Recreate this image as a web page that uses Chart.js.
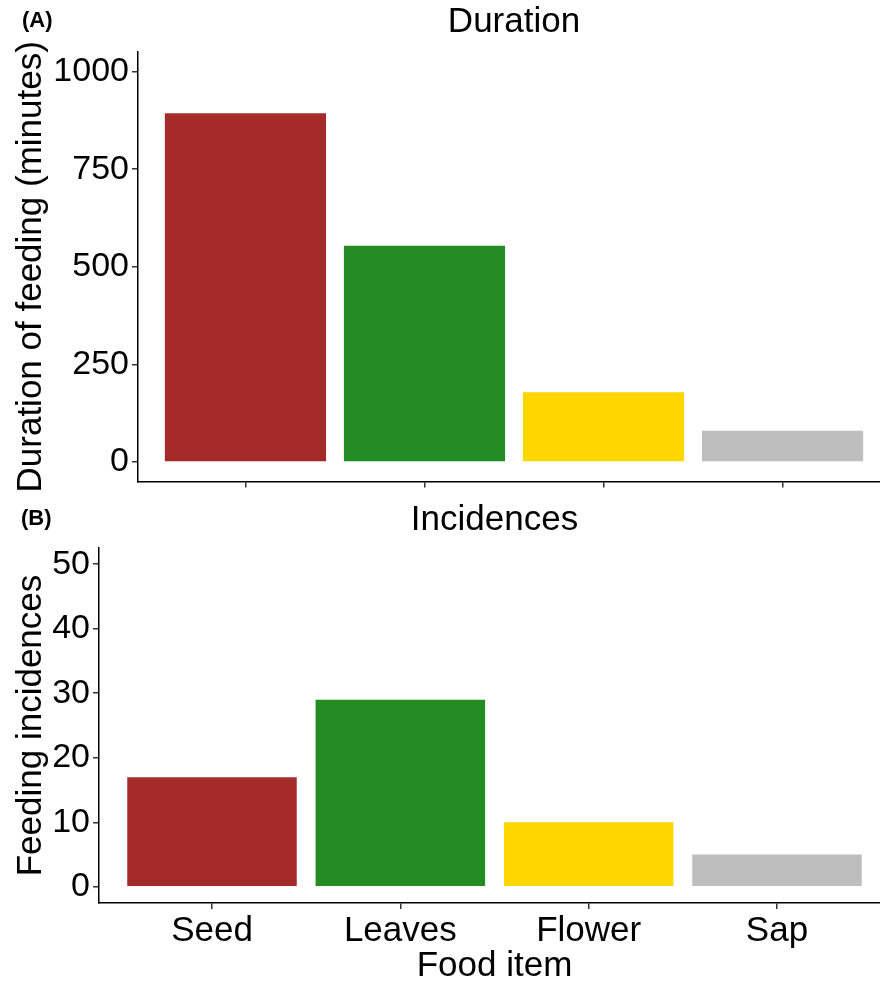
<!DOCTYPE html>
<html lang="en">
<head>
  <meta charset="UTF-8" />
  <title>Feeding duration and incidences</title>
  <script src="https://cdn.jsdelivr.net/npm/chart.js"></script>
  <style>
    body {
      margin: 0;
      background: #ffffff;
      overflow: hidden;
      width: 880px;
      height: 987px;
      position: relative;
      font-family: "Liberation Sans", Arial, sans-serif;
    }
    .panel {
      position: absolute;
      left: 0;
      width: 890px;
    }
    #panelA { top: 0; height: 505px; }
    #panelB { top: 495px; height: 492px; }
    .tag {
      position: absolute;
      font-weight: bold;
      font-size: 22px;
      line-height: 22px;
      color: #000;
      z-index: 2;
    }
  </style>
</head>
<body>
  <div class="panel" id="panelA"><canvas id="durationChart"></canvas></div>
  <div class="panel" id="panelB"><canvas id="incidenceChart"></canvas></div>
  <div class="tag" style="left:22px; top:9px;">(A)</div>
  <div class="tag" style="left:21px; top:507px;">(B)</div>

  <script>
    const foodItems = ['Seed', 'Leaves', 'Flower', 'Sap'];
    const barColors = ['#A52A2A', '#228B22', '#FFD700', '#BEBEBE'];
    const durationMinutes = [893, 554, 179, 80];
    const feedingIncidences = [17, 29, 10, 5];
    const durationTicks = [0, 250, 500, 750, 1000];
    const incidenceTicks = [0, 10, 20, 30, 40, 50];

    const fontFamily = '"Liberation Sans", Arial, sans-serif';
    Chart.defaults.font.family = fontFamily;
    Chart.defaults.color = '#000';

    // ggplot-style title: centred over the plot panel, not the whole canvas
    const panelTitle = {
      id: 'panelTitle',
      afterDraw(chart, args, o) {
        const { ctx, chartArea } = chart;
        ctx.save();
        ctx.font = '35px ' + fontFamily;
        ctx.fillStyle = '#000';
        ctx.textAlign = 'center';
        ctx.textBaseline = 'middle';
        ctx.fillText(o.text, (chartArea.left + chartArea.right) / 2, o.y);
        ctx.restore();
      }
    };

    function makeChart(canvasId, opts) {
      const ctx = document.getElementById(canvasId).getContext('2d');
      return new Chart(ctx, {
        type: 'bar',
        data: {
          datasets: [{
            data: opts.values.map((v, i) => ({ x: i + 1, y: v })),
            backgroundColor: barColors,
            borderWidth: 0,
            barPercentage: 0.9,
            categoryPercentage: 1.0
          }]
        },
        plugins: [panelTitle],
        options: {
          responsive: true,
          maintainAspectRatio: false,
          animation: false,
          layout: { padding: { top: opts.padTop, left: 0, right: 0, bottom: 0 } },
          plugins: {
            legend: { display: false },
            tooltip: { enabled: false },
            title: { display: false },
            panelTitle: { text: opts.title, y: opts.titleY }
          },
          scales: {
            x: {
              type: 'linear',
              min: 0.4,
              max: 4.6,
              offset: false,
              afterBuildTicks: s => { s.ticks = [1, 2, 3, 4].map(v => ({ value: v })); },
              afterFit: s => { s.height = opts.xHeight; },
              grid: { offset: false, drawOnChartArea: false, drawTicks: true, tickLength: 6, color: '#333', lineWidth: 1.5 },
              border: { display: true, color: '#000', width: 1.5 },
              ticks: {
                display: opts.showX,
                padding: 1,
                font: { size: 35 },
                color: '#000',
                maxRotation: 0,
                autoSkip: false,
                callback: v => foodItems[v - 1] || ''
              },
              title: {
                display: opts.showX,
                text: 'Food item',
                color: '#000',
                font: { size: 35 },
                padding: 0
              }
            },
            y: {
              min: opts.yMin,
              max: opts.yMax,
              afterBuildTicks: s => { s.ticks = opts.ticks.map(v => ({ value: v })); },
              afterFit: s => { s.width = opts.yWidth; },
              grid: { drawOnChartArea: false, drawTicks: true, tickLength: 6, color: '#333', lineWidth: 1.5 },
              border: { display: true, color: '#000', width: 1.5 },
              ticks: { padding: 3, font: { size: 34 }, color: '#000', callback: v => String(v) },
              title: {
                display: true,
                text: opts.yTitle,
                color: '#000',
                font: { size: 35 },
                padding: { top: 10, bottom: 0 }
              }
            }
          }
        }
      });
    }

    makeChart('durationChart', {
      values: durationMinutes,
      title: 'Duration',
      yTitle: 'Duration of feeding (minutes)',
      yMin: -50, yMax: 1050,
      ticks: durationTicks,
      yWidth: 138,
      xHeight: 14,
      showX: false,
      padTop: 52,
      titleY: 22
    });

    makeChart('incidenceChart', {
      values: feedingIncidences,
      title: 'Incidences',
      yTitle: 'Feeding incidences',
      yMin: -2.5, yMax: 52.5,
      ticks: incidenceTicks,
      yWidth: 99,
      xHeight: 84,
      showX: true,
      padTop: 53,
      titleY: 25
    });
  </script>
</body>
</html>
